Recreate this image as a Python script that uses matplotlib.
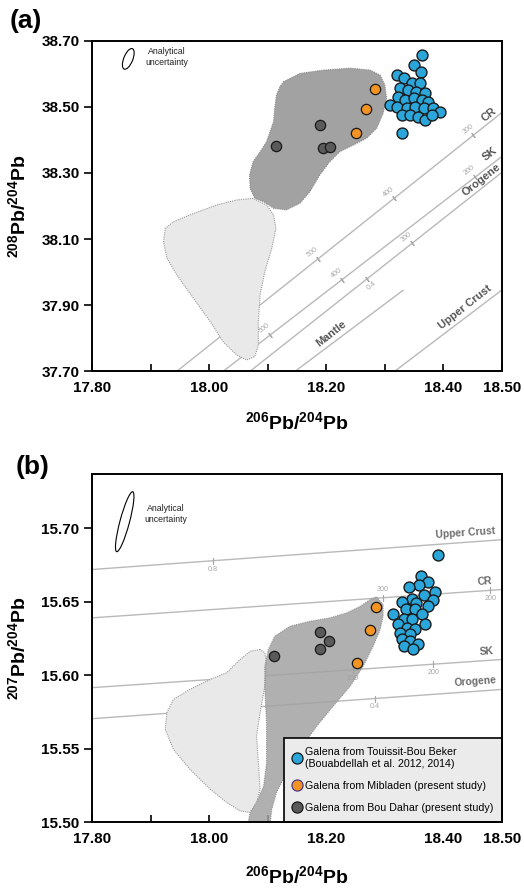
import numpy as np
import matplotlib
matplotlib.use('Agg')
import matplotlib.pyplot as plt
from matplotlib import font_manager
from matplotlib.patches import Polygon, Ellipse
from matplotlib.lines import Line2D
from matplotlib.transforms import ScaledTranslation

# ---------------- fonts ----------------
names = {f.name for f in font_manager.fontManager.ttflist}
NARROW = 'Liberation Sans Narrow' in names
BASE = 'Liberation Sans'
plt.rcParams['font.family'] = [BASE, 'DejaVu Sans']
plt.rcParams['mathtext.fontset'] = 'custom'
plt.rcParams['mathtext.rm'] = 'Liberation Sans:bold'
plt.rcParams['mathtext.bf'] = 'Liberation Sans:bold'
plt.rcParams['mathtext.it'] = 'Liberation Sans:bold'
plt.rcParams['mathtext.default'] = 'rm'
SMALL_FAM = ['Liberation Sans Narrow', BASE] if NARROW else [BASE]
SC = 1.18 if NARROW else 1.0

# ---------------- data: panel (a) 208Pb/204Pb vs 206Pb/204Pb ----------------
a_blue_x = [18.364, 18.349, 18.361, 18.320, 18.332, 18.346, 18.360, 18.326, 18.340, 18.354,
            18.369, 18.323, 18.334, 18.349, 18.363, 18.374, 18.309, 18.320, 18.337, 18.351,
            18.366, 18.383, 18.394, 18.329, 18.343, 18.357, 18.369, 18.380, 18.329]
a_blue_y = [38.657, 38.626, 38.606, 38.596, 38.586, 38.571, 38.571, 38.556, 38.551, 38.546,
            38.541, 38.531, 38.521, 38.526, 38.521, 38.515, 38.505, 38.500, 38.495, 38.500,
            38.495, 38.495, 38.485, 38.475, 38.475, 38.470, 38.460, 38.475, 38.420]
a_orange_x = [18.284, 18.268, 18.251]
a_orange_y = [38.553, 38.493, 38.420]
a_gray_x = [18.115, 18.189, 18.194, 18.206]
a_gray_y = [38.382, 38.446, 38.376, 38.379]

a_dark_x = [18.127, 18.155, 18.195, 18.241, 18.275, 18.292, 18.300, 18.303, 18.297, 18.286,
            18.269, 18.246, 18.223, 18.206, 18.189, 18.172, 18.155, 18.132, 18.110, 18.093,
            18.078, 18.070, 18.069, 18.075, 18.087, 18.098, 18.104, 18.110, 18.112, 18.115, 18.121]
a_dark_y = [38.576, 38.601, 38.611, 38.617, 38.611, 38.596, 38.566, 38.526, 38.480, 38.435,
            38.405, 38.384, 38.364, 38.334, 38.294, 38.243, 38.208, 38.188, 38.193, 38.213,
            38.223, 38.253, 38.294, 38.334, 38.364, 38.394, 38.425, 38.455, 38.496, 38.536, 38.561]
a_light_x = [18.075, 18.047, 18.013, 17.967, 17.939, 17.925, 17.922, 17.928, 17.945, 17.973,
             18.002, 18.024, 18.047, 18.064, 18.078, 18.084, 18.084, 18.087, 18.095, 18.107,
             18.114, 18.110, 18.098]
a_light_y = [38.223, 38.218, 38.203, 38.173, 38.152, 38.132, 38.092, 38.042, 37.991, 37.921,
             37.850, 37.789, 37.749, 37.734, 37.744, 37.779, 37.850, 37.931, 38.001, 38.072,
             38.132, 38.173, 38.203]

a_line_names = ['CR', 'SK', 'Orogene', 'Mantle', 'Upper Crust']
a_line_x0 = [17.945, 18.024, 18.070, 18.147, 18.317]
a_line_y0 = [37.700, 37.700, 37.700, 37.700, 37.700]
a_line_x1 = [18.500, 18.500, 18.500, 18.332, 18.500]
a_line_y1 = [38.483, 38.350, 38.302, 37.946, 37.946]
a_label_x = [18.477, 18.480, 18.465, 18.209, 18.437]
a_label_y = [38.475, 38.357, 38.279, 37.815, 37.895]

a_tick_line = [0, 0, 0, 1, 1, 1, 2, 2]
a_tick_x = [18.186, 18.316, 18.451, 18.104, 18.226, 18.454, 18.269, 18.346]
a_tick_text = ['500', '400', '300', '500', '400', '200', '0.4', '300']
a_tick_side = [1, 1, 1, 1, 1, 1, -1, 1]

# ---------------- data: panel (b) 207Pb/204Pb vs 206Pb/204Pb ----------------
b_blue_x = [18.362, 18.374, 18.359, 18.342, 18.386, 18.366, 18.346, 18.383, 18.329, 18.354,
            18.374, 18.336, 18.314, 18.352, 18.363, 18.332, 18.346, 18.369, 18.323, 18.337,
            18.352, 18.326, 18.343, 18.329, 18.343, 18.357, 18.332, 18.348, 18.390]
b_blue_y = [15.6674, 15.6633, 15.6618, 15.6602, 15.6565, 15.6550, 15.6520, 15.6516, 15.6497, 15.6493,
            15.6470, 15.6448, 15.6414, 15.6448, 15.6414, 15.6385, 15.6380, 15.6346, 15.6346, 15.6323,
            15.6312, 15.6289, 15.6278, 15.6244, 15.6232, 15.6210, 15.6198, 15.6176, 15.6817]
b_orange_x = [18.285, 18.274, 18.252]
b_orange_y = [15.6468, 15.6307, 15.6083]
b_gray_x = [18.111, 18.190, 18.205, 18.189]
b_gray_y = [15.6132, 15.6296, 15.6232, 15.6181]

b_dark_x = [18.286, 18.297, 18.297, 18.292, 18.280, 18.263, 18.241, 18.212, 18.184, 18.155,
            18.132, 18.115, 18.107, 18.104, 18.066, 18.070, 18.081, 18.093, 18.098, 18.098,
            18.095, 18.095, 18.101, 18.112, 18.138, 18.172, 18.206, 18.235, 18.258, 18.275]
b_dark_y = [15.6534, 15.6482, 15.6402, 15.6312, 15.6198, 15.6062, 15.5927, 15.5791, 15.5655, 15.5497,
            15.5338, 15.5202, 15.5089, 15.4987, 15.4987, 15.5067, 15.5135, 15.5247, 15.5406, 15.5678,
            15.5904, 15.6062, 15.6176, 15.6266, 15.6334, 15.6368, 15.6391, 15.6425, 15.6470, 15.6516]
b_light_x = [18.087, 18.070, 18.053, 18.030, 18.002, 17.967, 17.939, 17.928, 17.925, 17.939,
             17.967, 18.002, 18.030, 18.053, 18.070, 18.081, 18.087, 18.084, 18.081, 18.087,
             18.095, 18.098, 18.095]
b_light_y = [15.6176, 15.6164, 15.6108, 15.6018, 15.5972, 15.5904, 15.5836, 15.5746, 15.5633, 15.5497,
             15.5361, 15.5225, 15.5135, 15.5077, 15.5067, 15.5135, 15.5225, 15.5406, 15.5587, 15.5746,
             15.5927, 15.6086, 15.6154]

b_line_names = ['Upper Crust', 'CR', 'SK', 'Orogene']
b_line_x0 = [17.80, 17.80, 17.80, 17.80]
b_line_y0 = [15.6720, 15.6391, 15.5916, 15.5705]
b_line_x1 = [18.50, 18.50, 18.50, 18.50]
b_line_y1 = [15.6923, 15.6584, 15.6108, 15.5904]
b_label_x = [18.438, 18.470, 18.474, 18.455]
b_label_y = [15.6969, 15.6640, 15.6164, 15.5960]

b_tick_line = [0, 1, 1, 2, 2, 3]
b_tick_x = [18.007, 18.297, 18.480, 18.246, 18.383, 18.283]
b_tick_text = ['0.8', '300', '200', '300', '200', '0.4']
b_tick_side = [-1, 1, -1, -1, -1, -1]

x_ticks = [17.80, 17.90, 18.00, 18.10, 18.20, 18.30, 18.40, 18.50]
x_tick_labels = ['17.80', '', '18.00', '', '18.20', '', '18.40', '18.50']
a_y_ticks = [37.70, 37.90, 38.10, 38.30, 38.50, 38.70]
b_y_ticks = [15.50, 15.55, 15.60, 15.65, 15.70]

# ---------------- styles ----------------
BLUE = '#2ba6da'
ORANGE = '#f39322'
GRAY = '#5a5a5a'
DARK_FIELD = '#a2a2a2'
LIGHT_FIELD = '#e9e9e9'
LINE_C = '#b9b9b9'

fig = plt.figure(figsize=(5.24, 8.88), dpi=100)
ax_a = fig.add_axes([0.17557, 0.58198, 0.78244, 0.37218])
ax_b = fig.add_axes([0.17557, 0.07399, 0.78244, 0.39223])


def style_axes(ax, yticks, ylim, ylab, xpad):
    ax.set_xlim(17.80, 18.50)
    ax.set_ylim(*ylim)
    ax.set_xticks(x_ticks, x_tick_labels)
    ax.set_yticks(yticks, ['%.2f' % v for v in yticks])
    for s in ax.spines.values():
        s.set_linewidth(1.4)
        s.set_zorder(20)
    ax.tick_params(axis='x', direction='in', length=5, width=1.2, pad=7,
                   labelsize=11)
    ax.tick_params(axis='y', direction='out', length=6, width=1.2, pad=3,
                   labelsize=11)
    for lab in ax.get_xticklabels() + ax.get_yticklabels():
        lab.set_fontweight('bold')
    ax.set_xlabel(r'$^{206}$Pb/$^{204}$Pb', fontsize=14, fontweight='bold', labelpad=xpad)
    ax.set_ylabel(ylab, fontsize=14, fontweight='bold', labelpad=9)


def draw_lines(ax, x0, y0, x1, y1, tline, tx, ttext, tside, angle, perp):
    for i in range(len(x0)):
        ax.plot([x0[i], x1[i]], [y0[i], y1[i]], color=LINE_C, lw=1.0, zorder=1,
                solid_capstyle='butt')
    for li, xv, tt, sd in zip(tline, tx, ttext, tside):
        yv = np.interp(xv, [x0[li], x1[li]], [y0[li], y1[li]])
        ax.plot([xv], [yv], marker=(2, 2, angle), ms=4, mew=0.8, color='#a8a8a8',
                zorder=1.5)
        ax.annotate(tt, (xv, yv), xytext=(perp[0] * 6 * sd, perp[1] * 6 * sd),
                    textcoords='offset points', ha='center', va='center',
                    rotation=angle, fontsize=5.2, color='#a8a8a8', zorder=1.5,
                    family=SMALL_FAM)


def draw_points(ax, bx, by, ox, oy, gx, gy):
    ax.scatter(gx, gy, s=55, c=GRAY, edgecolors='#1a1a1a', linewidths=0.9, zorder=6)
    ax.scatter(ox, oy, s=55, c=ORANGE, edgecolors='#1a1a1a', linewidths=0.9, zorder=6)
    ax.scatter(bx, by, s=62, c=BLUE, edgecolors='#1a1a1a', linewidths=1.0, zorder=7)


def uncertainty(ax, cx, cy, w, h, ang, tx, ty):
    tr = fig.dpi_scale_trans + ScaledTranslation(cx, cy, ax.transAxes)
    ax.add_patch(Ellipse((0, 0), w, h, angle=ang, transform=tr, fill=False,
                         ec='black', lw=0.8, zorder=10))
    ax.text(tx, ty, 'Analytical\nuncertainty', transform=ax.transAxes, ha='center',
            va='center', fontsize=6.3 * SC, family=SMALL_FAM, linespacing=1.25,
            color='#222222')


# ---------------- panel (a) ----------------
ax = ax_a
style_axes(ax, a_y_ticks, (37.70, 38.70), r'$^{208}$Pb/$^{204}$Pb', 12)
ang_a = 38.3
draw_lines(ax, a_line_x0, a_line_y0, a_line_x1, a_line_y1, a_tick_line, a_tick_x,
           a_tick_text, a_tick_side, ang_a, (-0.62, 0.79))
ax.add_patch(Polygon(np.column_stack([a_light_x, a_light_y]), closed=True,
                     fc=LIGHT_FIELD, ec='#9a9a9a', lw=0.8, ls=(0, (1, 1)), zorder=3))
ax.add_patch(Polygon(np.column_stack([a_dark_x, a_dark_y]), closed=True,
                     fc=DARK_FIELD, ec='#8a8a8a', lw=0.8, ls=(0, (1, 1)), zorder=4))
for nm, lx, ly in zip(a_line_names, a_label_x, a_label_y):
    ax.text(lx, ly, nm, rotation=ang_a, ha='center', va='center', fontsize=8 * SC,
            color='#555555', family=SMALL_FAM, fontweight='bold', zorder=5,
            rotation_mode='anchor')
draw_points(ax, a_blue_x, a_blue_y, a_orange_x, a_orange_y, a_gray_x, a_gray_y)
uncertainty(ax, 0.0885, 0.945, 0.09, 0.22, -22, 0.183, 0.951)
fig.text(0.019, 0.976, '(a)', fontsize=19, fontweight='bold', va='center', ha='left')

# ---------------- panel (b) ----------------
ax = ax_b
style_axes(ax, b_y_ticks, (15.50, 15.737), r'$^{207}$Pb/$^{204}$Pb', 14)
ang_b = 3.95
draw_lines(ax, b_line_x0, b_line_y0, b_line_x1, b_line_y1, b_tick_line, b_tick_x,
           b_tick_text, b_tick_side, 0.0, (0.0, 1.0))
ax.add_patch(Polygon(np.column_stack([b_light_x, b_light_y]), closed=True,
                     fc=LIGHT_FIELD, ec='#9a9a9a', lw=0.8, ls=(0, (1, 1)), zorder=3))
ax.add_patch(Polygon(np.column_stack([b_dark_x, b_dark_y]), closed=True,
                     fc=DARK_FIELD, ec='#8a8a8a', lw=0.8, ls=(0, (1, 1)), alpha=0.85,
                     zorder=4))
for nm, lx, ly in zip(b_line_names, b_label_x, b_label_y):
    ax.text(lx, ly, nm, rotation=ang_b, ha='center', va='center', fontsize=7.4 * SC,
            color='#6a6a6a', family=SMALL_FAM, fontweight='bold', zorder=5,
            rotation_mode='anchor')
draw_points(ax, b_blue_x, b_blue_y, b_orange_x, b_orange_y, b_gray_x, b_gray_y)
uncertainty(ax, 0.0798, 0.863, 0.095, 0.62, -15, 0.181, 0.885)
fig.text(0.029, 0.474, '(b)', fontsize=19, fontweight='bold', va='center', ha='left')

handles = [
    Line2D([], [], ls='none', marker='o', ms=8, mfc=BLUE, mec='#1a1a1a', mew=0.9),
    Line2D([], [], ls='none', marker='o', ms=8, mfc=ORANGE, mec='#4a3a8a', mew=0.9),
    Line2D([], [], ls='none', marker='o', ms=8, mfc=GRAY, mec='#1a1a1a', mew=0.9),
]
labels = ['Galena from Touissit-Bou Beker\n(Bouabdellah et al. 2012, 2014)',
          'Galena from Mibladen (present study)',
          'Galena from Bou Dahar (present study)']
leg = ax.legend(handles, labels, loc='lower right', borderaxespad=0.0, frameon=True,
                fancybox=False, facecolor='#ebebeb', edgecolor='black', framealpha=1,
                prop={'family': SMALL_FAM, 'size': 7.7 * SC}, handlelength=0.6,
                handletextpad=0.45, labelspacing=1.15, borderpad=0.85)
leg.get_frame().set_linewidth(1.2)
leg.set_zorder(15)

fig.savefig('out.png', dpi=100)
